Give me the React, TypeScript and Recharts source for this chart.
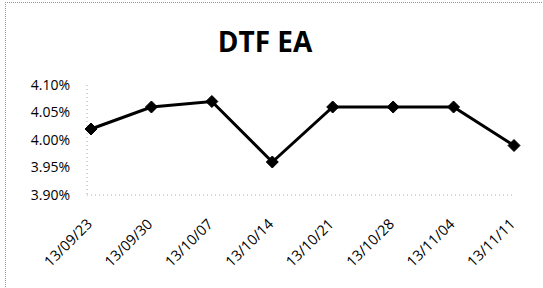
import { LineChart, Line, XAxis, YAxis } from 'recharts';

const dates = ['13/09/23', '13/09/30', '13/10/07', '13/10/14', '13/10/21', '13/10/28', '13/11/04', '13/11/11'];
const dtfEa = [4.02, 4.06, 4.07, 3.96, 4.06, 4.06, 4.06, 3.99];
const yTicks = [3.9, 3.95, 4.0, 4.05, 4.1];

const data = dates.map((d, i) => ({ date: d, value: dtfEa[i] }));

const font = '"Open Sans", sans-serif';

function Diamond(props: any) {
  const { cx, cy } = props;
  if (cx == null || cy == null) return null;
  const r = 6;
  return (
    <polygon
      points={`${cx},${cy - r} ${cx + r},${cy} ${cx},${cy + r} ${cx - r},${cy}`}
      fill="#000"
      stroke="#000"
    />
  );
}

function DateTick(props: any) {
  const { x, y, payload } = props;
  const tx = x + 2;
  const ty = y + 22;
  return (
    <text
      x={tx}
      y={ty}
      transform={`rotate(-45, ${tx}, ${ty})`}
      textAnchor="end"
      fontSize={14.5}
      fontFamily={font}
      fill="#000"
    >
      {payload.value}
    </text>
  );
}

export default function App() {
  return (
    <div style={{ position: 'absolute', left: 0, top: 0, width: 543, height: 288, background: '#fff' }}>
      <div
        style={{
          position: 'absolute',
          left: 5,
          top: 2,
          width: 540,
          height: 290,
          borderTop: '1px dotted #999',
          borderLeft: '1px dotted #999',
        }}
      />
      <div
        style={{
          position: 'absolute',
          left: 0,
          width: 530,
          top: 22,
          textAlign: 'center',
          fontFamily: font,
          fontWeight: 700,
          fontSize: 28,
          color: '#000',
        }}
      >
        DTF EA
      </div>
      <LineChart width={543} height={288} data={data} margin={{ top: 85, right: 29, bottom: 0, left: 0 }}>
        <XAxis
          dataKey="date"
          height={93}
          padding={{ left: 4, right: 0 }}
          axisLine={{ stroke: '#aaa', strokeDasharray: '1 3' }}
          tickLine={false}
          interval={0}
          tick={<DateTick />}
        />
        <YAxis
          width={87}
          domain={[3.9, 4.1]}
          ticks={yTicks}
          tickFormatter={(v: number) => `${v.toFixed(2)}%`}
          axisLine={{ stroke: '#aaa', strokeDasharray: '1 3' }}
          tickLine={false}
          tickSize={0}
          tickMargin={17}
          tick={{ fontSize: 14, fontFamily: font, fill: '#000' }}
        />
        <Line
          type="linear"
          dataKey="value"
          stroke="#000"
          strokeWidth={3}
          dot={<Diamond />}
          activeDot={false}
          isAnimationActive={false}
        />
      </LineChart>
    </div>
  );
}
